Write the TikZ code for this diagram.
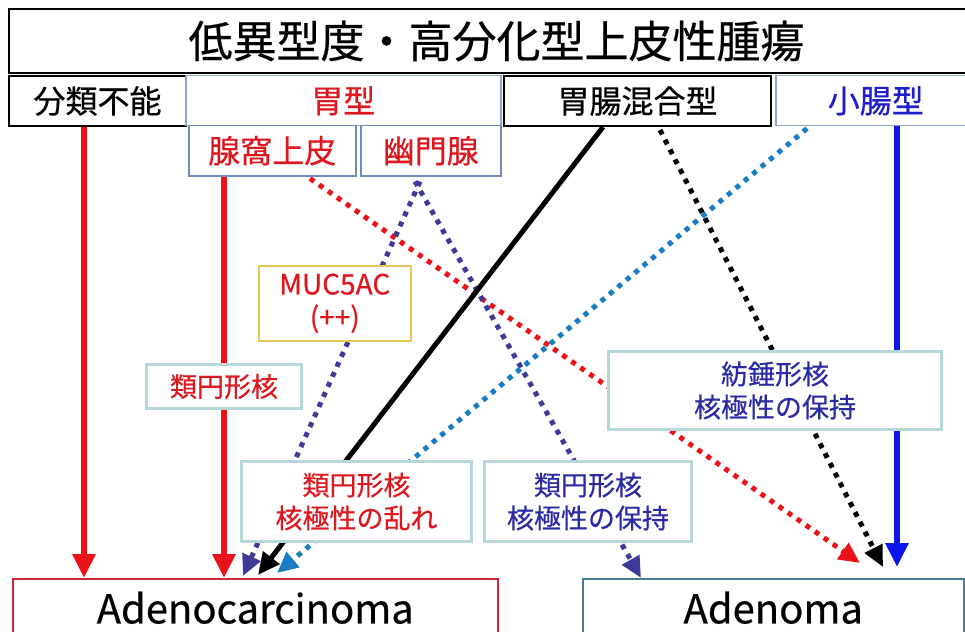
\documentclass[tikz,border=0pt]{standalone}
\usepackage{fontspec}
\setmainfont{Noto Sans CJK JP}[FakeBold=0.5]
\usetikzlibrary{arrows.meta,backgrounds,calc}
\definecolor{cred}{RGB}{235,18,25}
\definecolor{tred}{RGB}{222,22,30}
\definecolor{cnavy}{RGB}{62,58,152}
\definecolor{tnavy}{RGB}{42,42,165}
\definecolor{ccyan}{RGB}{25,125,195}
\definecolor{cblue}{RGB}{10,20,235}
\definecolor{tblue}{RGB}{30,30,205}
\definecolor{cteal}{RGB}{183,214,218}
\definecolor{csteel}{RGB}{140,168,200}
\definecolor{csteeld}{RGB}{110,140,180}
\definecolor{cgold}{RGB}{232,200,85}
\definecolor{cadc}{RGB}{205,40,50}
\definecolor{cadn}{RGB}{70,125,150}
\tikzset{
  box/.style={draw, fill=white, inner sep=0pt, anchor=north west, align=center},
  hdr/.style={box, font=\fontsize{32}{36}\selectfont, minimum height=50},
  note/.style={box, draw=cteal, line width=3pt, font=\fontsize{27}{33}\selectfont},
  solidarrow/.style={line width=6pt, -{Triangle[width=22pt,length=24pt]}},
  dotarrow/.style={line width=5pt, dash pattern=on 5pt off 6pt, -{Triangle[width=19pt,length=21pt]}}
}
\begin{document}
\begin{tikzpicture}[x=1pt,y=-1pt]
\useasboundingbox (0,0) rectangle (965,631);
% title
\node[box, line width=2pt, minimum width=975, minimum height=64, font=\fontsize{44}{48}\selectfont] (title) at (8,8) {低異型度・高分化型上皮性腫瘍};
% header row
\node[hdr, line width=2pt, minimum width=177] (bunrui) at (8,75) {分類不能};
\node[hdr, draw=csteel, line width=1.5pt, text=tred, minimum width=315] (gastric) at (185,75) {胃型};
\node[hdr, line width=2pt, minimum width=267] (mixed) at (503,75) {胃腸混合型};
\node[hdr, draw=csteel, line width=1.5pt, text=tblue, minimum width=200] (small) at (775,75) {小腸型};
% sub row
\node[hdr, draw=csteeld, line width=1.5pt, text=tred, minimum width=167] (fundic) at (188,125) {腺窩上皮};
\node[hdr, draw=csteeld, line width=1.5pt, text=tred, minimum width=140] (pyloric) at (360,125) {幽門腺};
% middle notes
\node[box, draw=cgold, line width=1.5pt, text=tred, minimum width=152, minimum height=75, font=\fontsize{28}{33}\selectfont] (muc) at (258,265) {MUC5AC\\(++)};
\node[note, text=tred, minimum width=155, minimum height=44] (round1) at (145,363) {類円形核};
\node[note, text=tnavy, minimum width=333, minimum height=78] (spindle) at (607,350) {紡錘形核\\核極性の保持};
\node[note, text=tred, minimum width=230, minimum height=80] (round2) at (240,460) {類円形核\\核極性の乱れ};
\node[note, text=tnavy, minimum width=207, minimum height=80] (round3) at (483,460) {類円形核\\核極性の保持};
% outcomes
\node[box, draw=cadc, line width=1.5pt, minimum width=485, minimum height=58, font=\fontsize{40}{44}\selectfont] (adc) at (12,578) {Adenocarcinoma};
\node[box, draw=cadn, line width=1.5pt, minimum width=381, minimum height=58, font=\fontsize{40}{44}\selectfont] (adn) at (582,578) {Adenoma};
% connectors
\begin{pgfonlayer}{background}
\draw[solidarrow, cred] ($(bunrui.south west)+(76,0)$) -- ($(adc.north west)+(72,0)$);
\draw[solidarrow, cred] ($(fundic.south west)+(36,0)$) -- ($(adc.north west)+(212,0)$);
\draw[dotarrow, cred] ($(fundic.south west)+(122,2)$) -- ($(adn.north west)+(278,-15)$);
\draw[dotarrow, cnavy] ($(pyloric.south west)+(60,5)$) -- ($(adc.north west)+(231,-2)$);
\draw[dotarrow, cnavy] ($(pyloric.south west)+(55,5)$) -- ($(adn.north west)+(59,0)$);
\draw[line width=5pt, -{Triangle[width=20pt,length=22pt]}] ($(mixed.south west)+(100,0)$) -- ($(adc.north west)+(246,-3)$);
\draw[dotarrow, black] ($(mixed.south west)+(157,3)$) -- ($(adn.north west)+(301,-11)$);
\draw[dotarrow, ccyan] ($(small.south west)+(32,2)$) -- ($(adc.north west)+(265,-5)$);
\draw[solidarrow, cblue] ($(small.south west)+(122,0)$) -- ($(adn.north west)+(315,-11)$);
\end{pgfonlayer}
\end{tikzpicture}
\end{document}
